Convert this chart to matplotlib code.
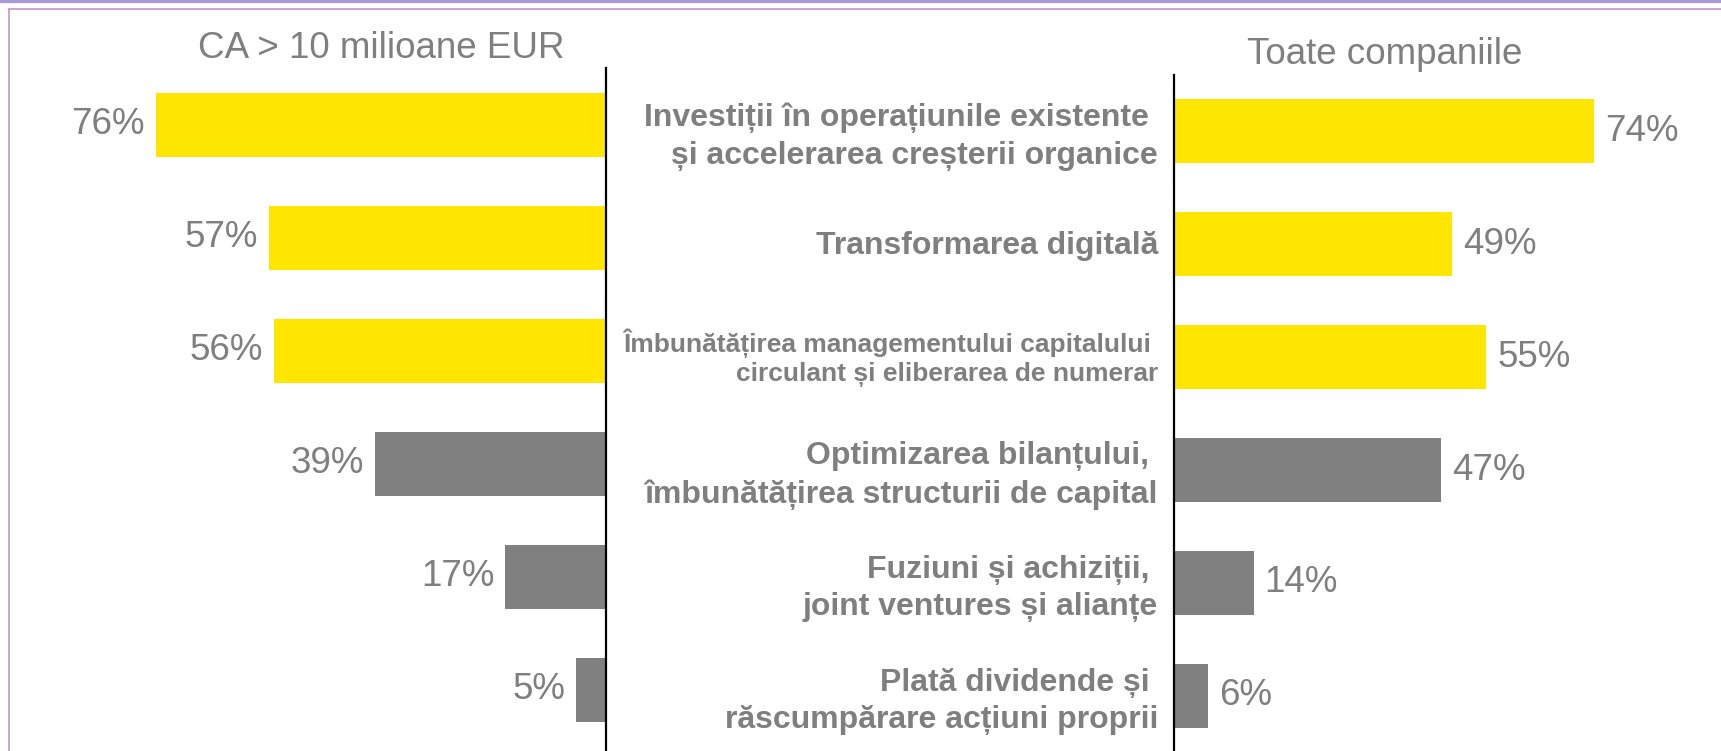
import matplotlib
matplotlib.use("Agg")
import matplotlib.pyplot as plt
from matplotlib.lines import Line2D


CATEGORIES = [
    "Investiții în operațiunile existente \nși accelerarea creșterii organice",
    "Transformarea digitală",
    "Îmbunătățirea managementului capitalului \ncirculant și eliberarea de numerar",
    "Optimizarea bilanțului, \nîmbunătățirea structurii de capital",
    "Fuziuni și achiziții, \njoint ventures și alianțe",
    "Plată dividende și \nrăscumpărare acțiuni proprii",
]
BIG_COMPANIES = [76, 57, 56, 39, 17, 5]
ALL_COMPANIES = [74, 49, 55, 47, 14, 6]
LEFT_TITLE = "CA > 10 milioane EUR"
RIGHT_TITLE = "Toate companiile"

YELLOW = "#ffe600"
GREY = "#808080"
TEXT = "#7f7f7f"
N_HIGHLIGHT = 3

W, H = 1721, 751
plt.rcParams["font.family"] = ["Liberation Sans", "DejaVu Sans"]


def px_axes(fig, x0, y0, x1, y1):
    # pixel box (top-left origin) -> figure fraction axes
    return fig.add_axes([x0 / W, 1 - y1 / H, (x1 - x0) / W, (y1 - y0) / H])


def main() -> None:
    fig = plt.figure(figsize=(W / 100, H / 100), dpi=100)
    fig.patch.set_facecolor("white")

    colors = [YELLOW if i < N_HIGHLIGHT else GREY for i in range(len(CATEGORIES))]
    ypos = list(range(len(CATEGORIES)))

    # left panel, bars grow leftwards from the axis line
    ax_l = px_axes(fig, 100, 68, 606, H)
    ax_l.barh(ypos, BIG_COMPANIES, height=0.57, color=colors)
    ax_l.set_xlim(506 / 5.92, 0)
    ax_l.set_ylim(5.54, -0.504)
    for y, v in zip(ypos, BIG_COMPANIES):
        ax_l.annotate(f"{v}%", xy=(v, y), xytext=(-8, 0), textcoords="offset points",
                      ha="right", va="center", fontsize=26.5, color=TEXT)

    # right panel
    ax_r = px_axes(fig, 1174, 75, 1700, H)
    ax_r.barh(ypos, ALL_COMPANIES, height=0.57, color=colors)
    ax_r.set_xlim(0, 526 / 5.68)
    ax_r.set_ylim(5.487, -0.496)
    for y, v in zip(ypos, ALL_COMPANIES):
        ax_r.annotate(f"{v}%", xy=(v, y), xytext=(8, 0), textcoords="offset points",
                      ha="left", va="center", fontsize=26.5, color=TEXT)

    for y, label in zip(ypos, CATEGORIES):
        if y == 2:
            size, spacing, dy = 19, 1.25, -0.5
        elif "\n" in label:
            size, spacing, dy = 23, 1.34, -4
        else:
            size, spacing, dy = 23, 1.34, -1.5
        ax_r.annotate(label, xy=(0, y), xytext=(-11.5, dy), textcoords="offset points",
                      ha="right", va="center", multialignment="right",
                      fontsize=size, fontweight="bold", color=TEXT,
                      linespacing=spacing, annotation_clip=False)

    for ax, side in ((ax_l, "right"), (ax_r, "left")):
        for name, sp in ax.spines.items():
            sp.set_visible(name == side)
        ax.spines[side].set_linewidth(1.6)
        ax.spines[side].set_color("black")
        ax.set_xticks([])
        ax.set_yticks([])
        ax.patch.set_alpha(0)

    fig.text(381 / W, 1 - 48 / H, LEFT_TITLE, ha="center", va="center",
             fontsize=26.5, color=TEXT)
    fig.text(1385 / W, 1 - 54 / H, RIGHT_TITLE, ha="center", va="center",
             fontsize=26.5, color=TEXT)

    # slide frame
    fig.add_artist(Line2D([0, 1], [1 - 1.2 / H, 1 - 1.2 / H], color="#a99ad2",
                          linewidth=2.4, transform=fig.transFigure))
    fig.add_artist(Line2D([9 / W, 1], [1 - 8.5 / H, 1 - 8.5 / H], color="#c99ccf",
                          linewidth=1.3, transform=fig.transFigure))
    fig.add_artist(Line2D([9 / W, 9 / W], [0, 1 - 8.5 / H], color="#c99ccf",
                          linewidth=1.3, transform=fig.transFigure))

    fig.savefig("out.png", dpi=100)
    plt.close(fig)


if __name__ == "__main__":
    main()
